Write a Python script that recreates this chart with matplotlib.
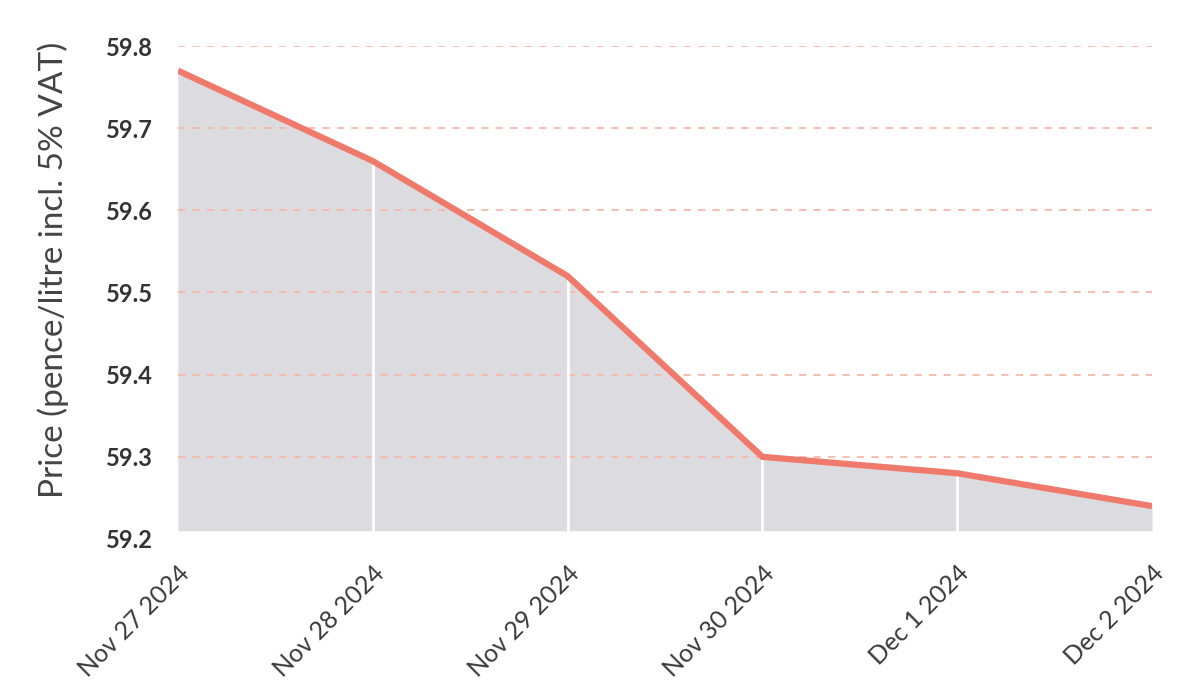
import matplotlib
matplotlib.use('Agg')
import matplotlib.pyplot as plt

dates = ['Nov 27 2024', 'Nov 28 2024', 'Nov 29 2024', 'Nov 30 2024', 'Dec 1 2024', 'Dec 2 2024']
prices = [59.77, 59.66, 59.52, 59.30, 59.28, 59.24]
yticks = [59.2, 59.3, 59.4, 59.5, 59.6, 59.7, 59.8]

LINE = '#ef7a6b'
GRID = '#f6b9ad'
FILL = '#dcdce0'
TXT = '#333333'

plt.rcParams['font.family'] = ['Lato', 'DejaVu Sans']

fig = plt.figure(figsize=(11.84, 6.97), dpi=100)
ax = fig.add_axes([0.1503, 0.2267, 0.8227, 0.7073])
x = list(range(len(dates)))
base = 59.21

ax.fill_between(x, prices, base, color=FILL, lw=0, zorder=1)
for xi, p in zip(x[1:-1], prices[1:-1]):
    ax.vlines(xi, base, p, color='white', lw=2, zorder=2)
for t in yticks[1:]:
    ax.axhline(t, color=GRID, lw=1.3, ls=(0, (4, 4)), zorder=1.5)
ax.plot(x, prices, color=LINE, lw=4.5, zorder=3, solid_capstyle='butt')

ax.set_xlim(0, len(dates) - 1)
ax.set_ylim(59.2, 59.8)
ax.set_yticks(yticks)
ax.set_yticklabels([f'{t:.1f}' for t in yticks], fontsize=17, fontweight='bold', color=TXT)
ax.set_xticks(x)
ax.set_xticklabels(dates, rotation=45, ha='right', rotation_mode='anchor',
                   fontsize=18, color='#3a3a3a')
ax.tick_params(axis='y', length=0, pad=18)
ax.tick_params(axis='x', length=0, pad=16)
ax.set_ylabel('Price (pence/litre incl. 5% VAT)', fontsize=24, fontweight='normal',
              color='#444444')
ax.yaxis.set_label_coords(-0.112, 0.546)
for s in ax.spines.values():
    s.set_visible(False)

fig.savefig('out.png', dpi=100)
